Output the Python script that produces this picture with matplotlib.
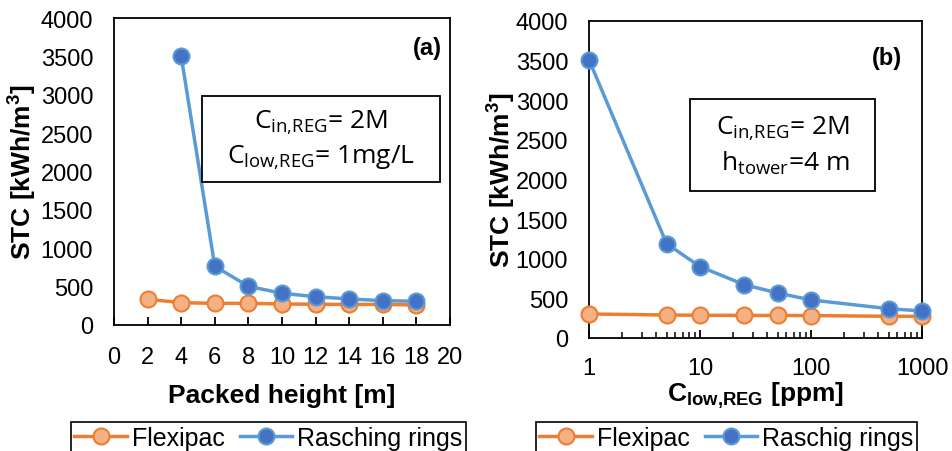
import matplotlib.pyplot as plt
from matplotlib.ticker import FixedLocator, NullFormatter, LogLocator

plt.rcParams['font.family'] = ['Liberation Sans', 'DejaVu Sans']
plt.rcParams['mathtext.fontset'] = 'custom'
plt.rcParams['mathtext.rm'] = 'Open Sans'
plt.rcParams['mathtext.bf'] = 'Liberation Sans:bold'

# panel (a): packed height
height_m = [2, 4, 6, 8, 10, 12, 14, 16, 18]
flexipac_a = [335, 291, 282, 282, 274, 270, 268, 268, 261]
raschig_h = [4, 6, 8, 10, 12, 14, 16, 18]
raschig_a = [3500, 765, 504, 413, 369, 339, 317, 309]

# panel (b): C_low,REG
c_low = [1, 5, 10, 25, 50, 100, 500, 1000]
flexipac_b = [303, 290, 287, 285, 284, 283, 274, 274]
raschig_b = [3510, 1191, 901, 673, 568, 480, 370, 341]

orange = "#ED7D31"
orange_face = "#F4B183"
blue = "#5B9BD5"
blue_face = "#4472C4"

my_dpi = 100
fig = plt.figure(figsize=(953 / my_dpi, 452 / my_dpi), dpi=my_dpi)
W, H = 953, 452
ax1 = fig.add_axes([114 / W, 1 - 326 / H, 336 / W, 307 / H])
ax2 = fig.add_axes([589 / W, 1 - 339 / H, 333 / W, 317 / H])


def draw(ax, x1, y1, x2, y2, lab2, ylab_x):
    l1, = ax.plot(x1, y1, color=orange, lw=2.5, marker="o", ms=11.5,
                  mfc=orange_face, mec=orange, mew=1.5, label="Flexipac",
                  clip_on=False, zorder=3)
    l2, = ax.plot(x2, y2, color=blue, lw=2.5, marker="o", ms=11.5,
                  mfc=blue_face, mec=blue, mew=1.5, label=lab2,
                  clip_on=False, zorder=4)
    ax.set_ylim(0, 4000)
    ax.set_yticks(range(0, 4001, 500))
    ax.tick_params(axis="y", length=0, labelsize=17, pad=15)
    ax.tick_params(axis="x", direction="in", labelsize=17, width=1.3)
    for s in ax.spines.values():
        s.set_linewidth(1.3)
    ax.set_ylabel("STC [kWh/m$^\\mathbf{3}$]", fontsize=19, fontweight="bold")
    ax.yaxis.set_label_coords(ylab_x / W, 0.5, transform=fig.transFigure)
    ax.yaxis.label.set_y(ax.get_position().y0 + ax.get_position().height / 2)
    return l1, l2


def box_text(txt, x0, y0, x1, y1, align):
    # bordered annotation box, position given in figure pixels
    fig.add_artist(plt.Rectangle((x0 / W, 1 - y1 / H), (x1 - x0) / W, (y1 - y0) / H,
                                 transform=fig.transFigure, fc="white", ec="black",
                                 lw=1.3, zorder=5))
    fig.text((x0 + x1) / 2 / W, 1 - (y0 + y1) / 2 / H, txt, ha="center",
             va="center", fontsize=19, family="Open Sans", linespacing=1.35,
             multialignment=align, zorder=6)


la, lb = draw(ax1, height_m, flexipac_a, raschig_h, raschig_a, "Rasching rings", 38)
ax1.set_xlim(0, 20)
ax1.set_xticks(range(0, 21, 2))
ax1.tick_params(axis="x", length=6, pad=15)
ax1.set_xlabel("Packed height [m]", fontsize=19, fontweight="bold", labelpad=11)
ax1.text(0.975, 0.905, "(a)", transform=ax1.transAxes, ha="right", va="center",
         fontsize=17, fontweight="bold")
box_text("C$_{\\mathrm{in{,}REG}}$= 2M\nC$_{\\mathrm{low{,}REG}}$= 1mg/L",
         201.7, 97.3, 440, 182.7, "center")
ax1.legend(handles=[la, lb], loc="lower center",
           bbox_to_anchor=(0.5 * (74 + 463) / W, -0.005),
           bbox_transform=fig.transFigure, ncol=2, fontsize=18, frameon=True,
           fancybox=False, edgecolor="black", framealpha=1, handlelength=2.1,
           handletextpad=0.2, columnspacing=0.6, borderpad=0.15,
           borderaxespad=0).get_frame().set_linewidth(1.2)

lc, ld = draw(ax2, c_low, flexipac_b, c_low, raschig_b, "Raschig rings", 517)
ax2.set_xscale("log")
ax2.set_xlim(1, 1000)
ax2.xaxis.set_major_locator(FixedLocator([1, 10, 100, 1000]))
ax2.set_xticklabels(["1", "10", "100", "1000"])
ax2.xaxis.set_minor_locator(LogLocator(base=10, subs=range(2, 10)))
ax2.xaxis.set_minor_formatter(NullFormatter())
ax2.tick_params(axis="x", which="major", length=6, pad=14)
ax2.tick_params(axis="x", which="minor", direction="in", length=4, width=1.1)
ax2.set_xlabel("C$_{\\mathbf{low{,}REG}}$ [ppm]", fontsize=19, fontweight="bold",
               labelpad=0)
ax2.text(0.94, 0.885, "(b)", transform=ax2.transAxes, ha="right", va="center",
         fontsize=17, fontweight="bold")
box_text("C$_{\\mathrm{in{,}REG}}$= 2M\nh$_{\\mathrm{tower}}$=4 m",
         690, 100, 875, 191.7, "right")
ax2.legend(handles=[lc, ld], loc="lower center",
           bbox_to_anchor=(0.5 * (526 + 927) / W, -0.005),
           bbox_transform=fig.transFigure, ncol=2, fontsize=18, frameon=True,
           fancybox=False, edgecolor="black", framealpha=1, handlelength=2.1,
           handletextpad=0.2, columnspacing=0.6, borderpad=0.15,
           borderaxespad=0).get_frame().set_linewidth(1.2)

fig.savefig("out.png", dpi=my_dpi)
